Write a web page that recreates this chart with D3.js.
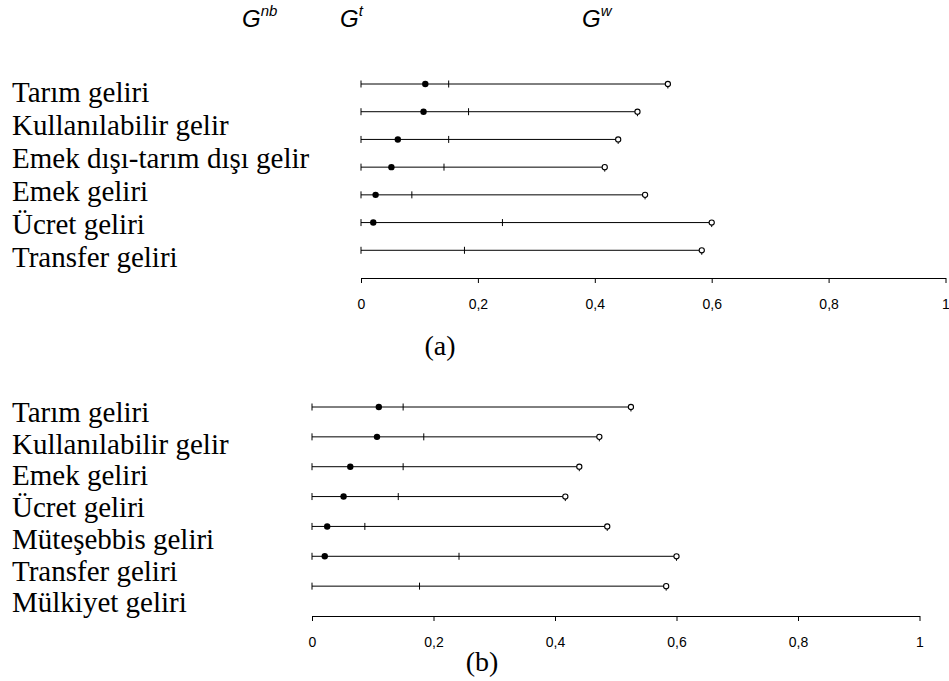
<!DOCTYPE html>
<html>
<head>
<meta charset="utf-8">
<script src="https://cdn.jsdelivr.net/npm/d3@7"></script>
<style>
  html, body { margin: 0; padding: 0; background: #fff; }
  svg { display: block; }
</style>
</head>
<body>
<svg id="chart" width="949" height="681"></svg>
<script>
// ---- data ----
const labelsA = ["Tarım geliri", "Kullanılabilir gelir", "Emek dışı-tarım dışı gelir", "Emek geliri", "Ücret geliri", "Transfer geliri"];
const labelsB = ["Tarım geliri", "Kullanılabilir gelir", "Emek geliri", "Ücret geliri", "Müteşebbis geliri", "Transfer geliri", "Mülkiyet geliri"];
const gnb = [0.110, 0.107, 0.063, 0.052, 0.025, 0.021, null];
const gt  = [0.150, 0.184, 0.150, 0.142, 0.087, 0.242, 0.177];
const gw  = [0.525, 0.473, 0.440, 0.417, 0.486, 0.600, 0.583];
const tickValues = [0, 0.2, 0.4, 0.6, 0.8, 1];
const tickLabels = ["0", "0,2", "0,4", "0,6", "0,8", "1"];

const svg = d3.select("#chart");
const rows = d3.range(gw.length);

// header
const header = [
  {base: "G", sup: "nb", x: 242},
  {base: "G", sup: "t", x: 340},
  {base: "G", sup: "w", x: 582}
];
header.forEach(h => {
  const t = svg.append("text")
    .attr("x", h.x).attr("y", 27)
    .attr("font-family", "Liberation Sans, Arial, sans-serif")
    .attr("font-style", "italic")
    .attr("font-size", 24)
    .attr("fill", "#000");
  t.append("tspan").text(h.base);
  t.append("tspan").attr("font-size", 15).attr("dy", -11).text(h.sup);
});

function panel(cfg) {
  const g = svg.append("g");
  const x = d3.scaleLinear().domain([0, 1]).range(cfg.xRange);
  const y = d3.scaleLinear().domain([0, rows.length]).range(cfg.yRange);

  // category labels
  g.selectAll("text.cat").data(cfg.labels).enter().append("text")
    .attr("class", "cat")
    .attr("x", 12)
    .attr("y", (d, i) => cfg.labelY0 + i * cfg.labelStep)
    .attr("font-family", "Liberation Serif, Times New Roman, serif")
    .attr("font-size", 29)
    .attr("fill", "#000")
    .text(d => d);

  // lines
  g.selectAll("line.row").data(rows).enter().append("line")
    .attr("x1", x(0)).attr("x2", i => x(gw[i]))
    .attr("y1", i => y(i)).attr("y2", i => y(i))
    .attr("stroke", "#000").attr("stroke-width", 1);

  // start ticks
  g.selectAll("line.start").data(rows).enter().append("line")
    .attr("x1", x(0)).attr("x2", x(0))
    .attr("y1", i => y(i) - 3.5).attr("y2", i => y(i) + 3.5)
    .attr("stroke", "#000").attr("stroke-width", 1);

  // G^t ticks
  g.selectAll("line.gt").data(rows).enter().append("line")
    .attr("x1", i => x(gt[i])).attr("x2", i => x(gt[i]))
    .attr("y1", i => y(i) - 3.5).attr("y2", i => y(i) + 3.5)
    .attr("stroke", "#000").attr("stroke-width", 1);

  // G^nb filled dots
  g.selectAll("circle.gnb").data(rows.filter(i => gnb[i] != null)).enter().append("circle")
    .attr("cx", i => x(gnb[i])).attr("cy", i => y(i)).attr("r", 3.2)
    .attr("fill", "#000");

  // G^w open circles with tail
  g.selectAll("line.gwtail").data(rows).enter().append("line")
    .attr("x1", i => x(gw[i])).attr("x2", i => x(gw[i]))
    .attr("y1", i => y(i)).attr("y2", i => y(i) + 4.5)
    .attr("stroke", "#000").attr("stroke-width", 1);
  g.selectAll("circle.gw").data(rows).enter().append("circle")
    .attr("cx", i => x(gw[i])).attr("cy", i => y(i)).attr("r", 2.6)
    .attr("fill", "#fff").attr("stroke", "#000").attr("stroke-width", 1.1);

  // axis
  const axis = d3.axisBottom(x)
    .tickValues(tickValues)
    .tickFormat((d, i) => tickLabels[i])
    .tickSize(5).tickSizeOuter(0);
  const ax = g.append("g")
    .attr("transform", `translate(0,${y(rows.length)})`)
    .call(axis);
  ax.select(".domain").attr("stroke", "#000");
  ax.selectAll(".tick line").attr("stroke", "#000");
  ax.selectAll(".tick text")
    .attr("y", 31).attr("dy", null)
    .attr("font-family", "Liberation Sans, Arial, sans-serif")
    .attr("font-size", 14)
    .attr("fill", "#000");

  // panel label
  g.append("text")
    .attr("x", cfg.tagX).attr("y", cfg.tagY)
    .attr("text-anchor", "middle")
    .attr("font-family", "Liberation Serif, Times New Roman, serif")
    .attr("font-size", 28)
    .attr("fill", "#000")
    .text(cfg.tag);
}

panel({labels: labelsA, xRange: [361, 945.5], yRange: [84, 278],
       labelY0: 102, labelStep: 33, tag: "(a)", tagX: 440, tagY: 355});
panel({labels: labelsB, xRange: [312, 919.5], yRange: [407, 616],
       labelY0: 422, labelStep: 31.7, tag: "(b)", tagX: 482, tagY: 671});
</script>
</body>
</html>
